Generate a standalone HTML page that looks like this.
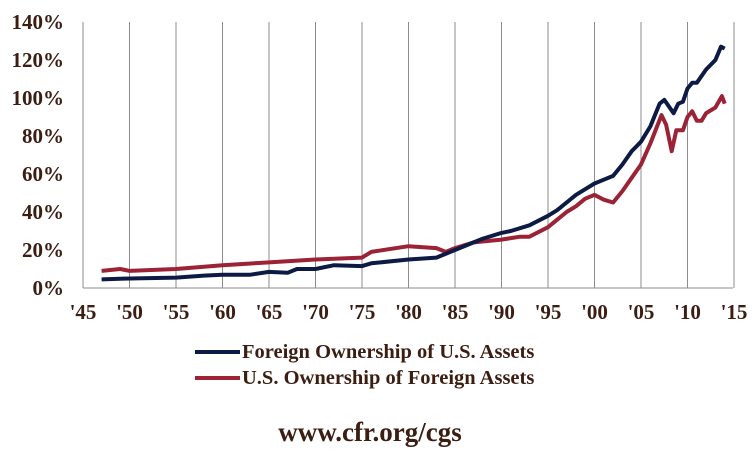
<!DOCTYPE html><html><head><style>body{margin:0;background:#fff}svg{display:block}text{font-family:"Liberation Serif",serif;font-weight:bold;fill:#3b1d12}</style></head><body>
<svg width="756" height="451" xmlns="http://www.w3.org/2000/svg">
<g id="grid" stroke="#8c8c8c" stroke-width="1"></g>
<g id="lab" font-size="21"></g>
<polyline id="red" fill="none" stroke="#9b2335" stroke-width="4" stroke-linejoin="round"/>
<polyline id="blue" fill="none" stroke="#0c1a44" stroke-width="4" stroke-linejoin="round"/>
<line x1="195" y1="352" x2="240" y2="352" stroke="#0c1a44" stroke-width="4"/>
<line x1="195" y1="378" x2="240" y2="378" stroke="#9b2335" stroke-width="4"/>
<text x="242" y="358" font-size="20.5">Foreign Ownership of U.S. Assets</text>
<text x="242" y="384" font-size="20.5">U.S. Ownership of Foreign Assets</text>
<text x="370" y="441" font-size="27" text-anchor="middle">www.cfr.org/cgs</text>
</svg>
<script>
const X=y=>83+(y-1945)*9.3, Y=p=>288-p*1.9;
const g=document.getElementById('grid'),l=document.getElementById('lab'),NS="http://www.w3.org/2000/svg";
function el(p,t,a,txt){const e=document.createElementNS(NS,t);for(const k in a)e.setAttribute(k,a[k]);if(txt)e.textContent=txt;p.appendChild(e);}
for(let y=1945;y<=2015;y+=5){el(g,'line',{x1:X(y),x2:X(y),y1:22,y2:288});
 el(l,'text',{x:X(y),y:319,'text-anchor':'middle'},"'"+String(y%100).padStart(2,'0'));}
el(g,'line',{x1:83,x2:733,y1:288,y2:288});
for(let p=0;p<=140;p+=20)el(l,'text',{x:64,y:Y(p)+7,'text-anchor':'end'},p+'%');
const B=[[1947,4.5],[1950,5],[1955,5.5],[1958,6.5],[1960,7],[1963,7],[1965,8.5],[1967,8],[1968,10],[1970,10],[1972,12],[1975,11.5],[1976,13],[1980,15],[1983,16],[1985,20],[1987,24],[1988,26],[1990,29],[1991,30],[1993,33],[1995,38],[1996,41],[1997,45],[1998,49],[1999,52],[2000,55],[2001,57],[2002,59],[2003,65],[2004,72],[2005,77],[2006,85],[2007,97],[2007.5,99],[2008.5,92],[2009,97],[2009.5,98],[2010,105],[2010.5,108],[2011,108],[2012,115],[2013,120],[2013.6,127],[2014,126]];
const R=[[1947,9],[1949,10],[1950,9],[1955,10],[1960,12],[1965,13.5],[1970,15],[1975,16],[1976,19],[1980,22],[1983,21],[1984,19],[1985,21],[1987,24],[1990,25.5],[1992,27],[1993,27],[1995,32],[1996,36],[1997,40],[1998,43],[1999,47],[2000,49],[2001,46.5],[2002,45],[2003,51],[2004,58],[2005,65],[2006,76],[2007.2,91],[2007.7,86],[2008.3,72],[2008.8,83],[2009.5,83],[2010,90],[2010.5,93],[2011,88],[2011.5,88],[2012,92],[2013,95],[2013.7,101],[2014,97]];
const pts=a=>a.map(([y,p])=>X(y).toFixed(1)+','+Y(p).toFixed(1)).join(' ');
document.getElementById('blue').setAttribute('points',pts(B));
document.getElementById('red').setAttribute('points',pts(R));
</script></body></html>
